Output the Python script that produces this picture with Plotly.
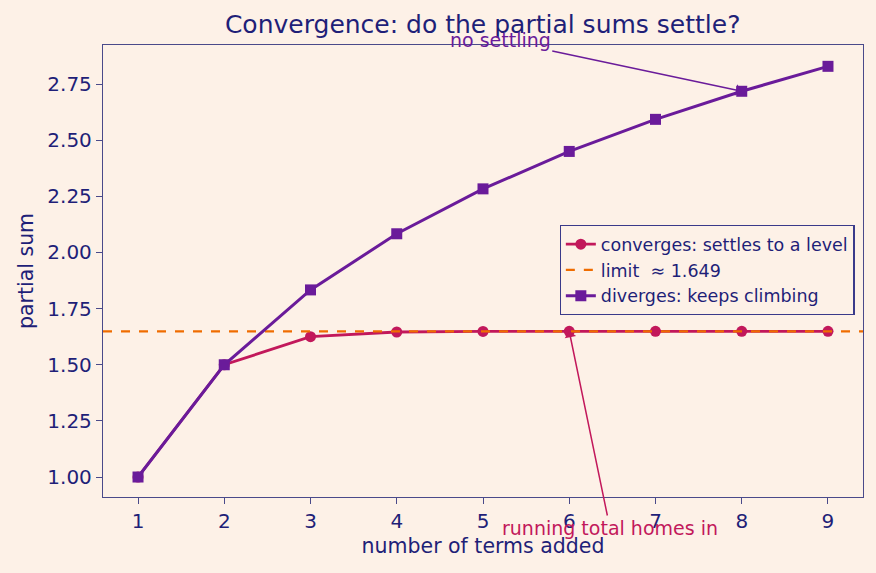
import plotly.graph_objects as go

terms = [1, 2, 3, 4, 5, 6, 7, 8, 9]
converges = [1.0, 1.5, 1.625, 1.6458, 1.6484, 1.6487, 1.6487, 1.6487, 1.6487]
diverges = [1.0, 1.5, 1.8333, 2.0833, 2.2833, 2.45, 2.5929, 2.7179, 2.829]
limit = 1.6487

BG = "#fdf1e7"
NAVY = "#1f1f78"
CRIMSON = "#c2185b"
ORANGE = "#ef6c00"
PURPLE = "#6a1b9a"

fig = go.Figure()
fig.add_trace(go.Scatter(x=terms, y=converges, mode="lines+markers",
                         name="converges: settles to a level",
                         line=dict(color=CRIMSON, width=2.8),
                         marker=dict(symbol="circle", size=11, color=CRIMSON)))
fig.add_trace(go.Scatter(x=[0.594, 9.406], y=[limit, limit], mode="lines",
                         name="limit  \u2248 1.649",
                         line=dict(color=ORANGE, width=2.2, dash="dash")))
fig.add_trace(go.Scatter(x=terms, y=diverges, mode="lines+markers",
                         name="diverges: keeps climbing",
                         line=dict(color=PURPLE, width=3),
                         marker=dict(symbol="square", size=11, color=PURPLE)))

fig.add_annotation(x=8, y=diverges[7], xref="x", yref="y",
                   ax=5.2, ay=2.946, axref="x", ayref="y",
                   text="no settling", showarrow=True, arrowhead=1, arrowsize=1.3,
                   arrowwidth=1.5, arrowcolor=PURPLE,
                   font=dict(color=PURPLE, size=19, family="DejaVu Sans"))
fig.add_annotation(x=6, y=converges[5], xref="x", yref="y",
                   ax=6.472, ay=0.773, axref="x", ayref="y",
                   text="running total homes in", showarrow=True, arrowhead=1, arrowsize=1.3,
                   arrowwidth=1.5, arrowcolor=CRIMSON,
                   font=dict(color=CRIMSON, size=19, family="DejaVu Sans"))

axis_common = dict(showline=True, linecolor="#4a4a8a", linewidth=1.3, mirror=True,
                   ticks="outside", ticklen=6, tickcolor="#4a4a8a", showgrid=False,
                   zeroline=False, tickfont=dict(color=NAVY, size=20),
                   title_font=dict(color=NAVY, size=20.5))

fig.update_xaxes(range=[0.594, 9.406], tickvals=terms,
                 title_text="number of terms added", title_standoff=6, **axis_common)
fig.update_yaxes(range=[0.911, 2.924], tickvals=[1.0, 1.25, 1.5, 1.75, 2.0, 2.25, 2.5, 2.75],
                 tickformat=".2f", title_text="partial sum", title_standoff=8, **axis_common)

fig.update_layout(
    width=876, height=573,
    paper_bgcolor=BG, plot_bgcolor=BG,
    font=dict(family="DejaVu Sans", color=NAVY),
    title=dict(text="Convergence: do the partial sums settle?", x=0.551, xanchor="center",
               y=0.958, yanchor="middle", font=dict(size=25, color=NAVY)),
    margin=dict(l=103, r=13, t=45, b=76),
    legend=dict(x=0.989, xanchor="right", y=0.502, yanchor="middle",
                bgcolor=BG, bordercolor="#3a3a8a", borderwidth=1.2,
                font=dict(size=17.5, color=NAVY), tracegroupgap=0),
    showlegend=True,
)

fig.write_html("out.html")
